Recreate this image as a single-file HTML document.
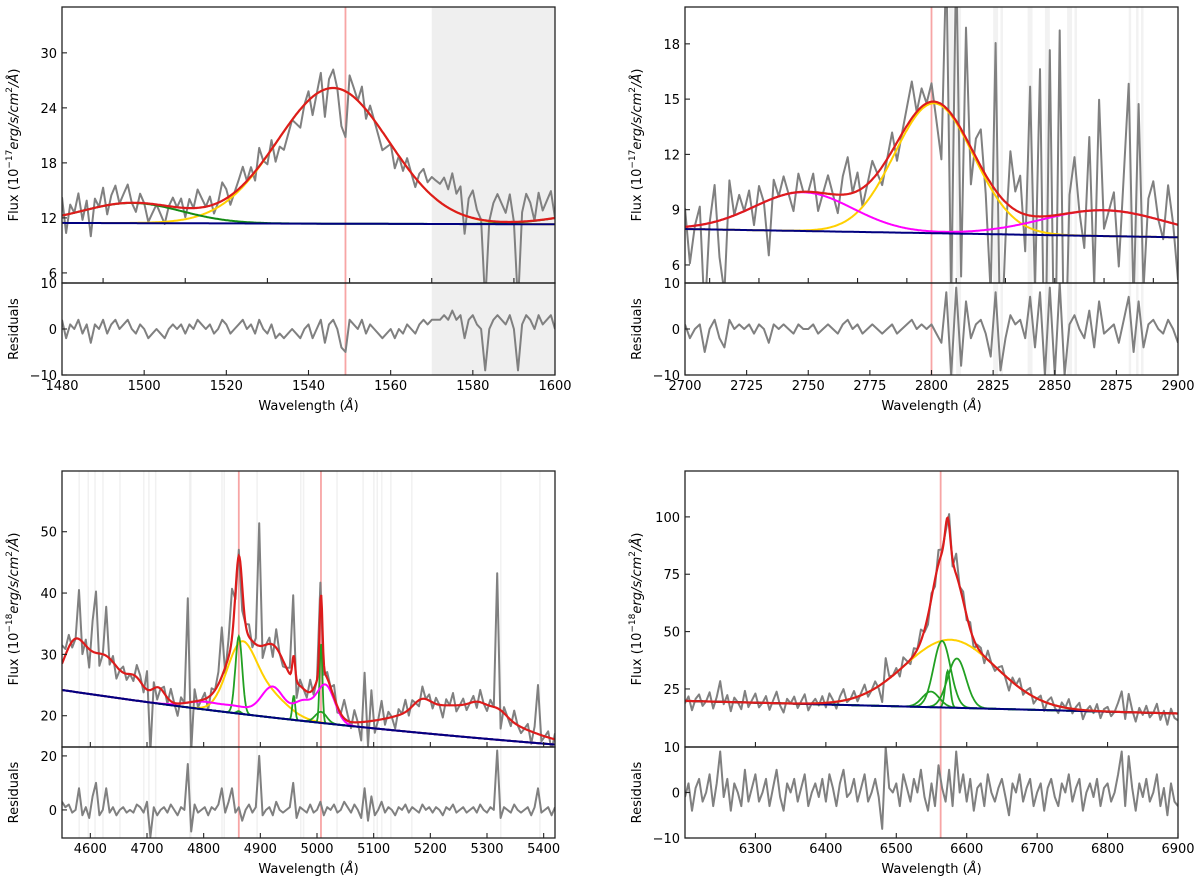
<!DOCTYPE html>
<html><head><meta charset="utf-8"><title>Spectral line fits</title>
<style>
html,body{margin:0;padding:0;background:#fff;}
svg{display:block;font-family:"DejaVu Sans","Liberation Sans",sans-serif;}
</style></head>
<body>
<svg id="fig" width="1200" height="885" viewBox="0 0 1200 885" xmlns="http://www.w3.org/2000/svg"></svg>
<script>
// ---------- DATA ----------
// Panel 1: C IV region
const p1Lam0 = 1480, p1Step = 1;
const p1Residuals = [
2,-2,1,0,2,-1,1,-3,1,0, 2,-1,1,2,0,1,2,0,-1,1, 0,-2,-1,0,-1,-2,0,1,0,1, -1,1,0,2,1,0,1,-1,0,2,
1,-1,0,1,2,0,1,-1,2,0, -1,1,-2,-1,-2,-1,0,-1,-2,0, 1,-2,0,2,-3,1,2,0,-4,-5, 2,1,0,2,-1,1,0,-1,-2,-1,
0,-2,0,-1,1,0,-1,1,2,1, 2,2,2,3,2,4,2,3,-2,2, 3,1,0,-9,0,2,3,2,1,3, 0,-9,1,3,2,0,3,1,2,3, 0];
const p1Continuum = [11.45, 11.3];            // value at 1480, value at 1600
const p1Yellow = [[1546, 14.8, 13.6]];        // [centre, amplitude, sigma]
const p1Green = [[1497, 2.2, 12], [1615, 1.5, 12]];
const p1Magenta = [];
const p1Masks = [[1570, 1600]];
const p1Lines = [1549];

// Panel 2: Mg II region
const p2Lam0 = 2700, p2Step = 2;
const p2Residuals = [
1,-2,0,1,-5,0,2,-2,-4,2, 0,1,0,1,-1,1,0,-3,1,0, 1,0,-1,1,0,0,1,-1,0,1, 0,-1,1,2,0,1,-1,0,1,0,
-1,0,1,-1,0,1,2,0,1,0, 1,-1,-3,8,-10,9,-8,6,-2,1, 2,-1,-6,8,-9,-2,3,1,2,-2, 7,-4,8,-10,9,-10,10,-10,1,3,
0,-2,4,-4,6,-1,0,1,-3,2, 7,-5,6,-4,1,2,0,-1,2,0, -3];
const p2Continuum = [7.95, 7.5];
const p2Yellow = [[2801, 7.05, 16]];
const p2Green = [];
const p2Magenta = [[2748, 2.1, 20], [2870, 1.4, 25]];
const p2Masks = [[2807,2809],[2810,2812],[2825,2827],[2828,2829],[2839,2841],[2846,2848],[2855,2857],[2858,2859],[2880,2881],[2883,2884],[2885,2886]];
const p2Lines = [2800];

// Panel 3: H-beta region
const p3Lam0 = 4550, p3Step = 6;
const p3Residuals = [
3,1,2,-1,0,8,-2,1,-3,5, 10,-2,0,8,-1,1,-2,0,1,-1, 0,-1,2,1,-1,3,-10,1,-2,0, 1,-1,2,0,-2,1,0,17,-8,2,
-1,0,1,-2,1,0,2,8,-1,3, 8,-1,1,-4,0,2,-1,1,20,-2, 0,1,-2,3,0,-1,0,1,10,-3, 1,0,-1,2,-1,0,3,-2,1,0,
2,-1,0,3,1,-1,2,0,-3,8, -4,5,-2,0,3,-1,1,0,-2,1, 0,2,-1,1,0,-1,2,0,1,-1, 1,0,-2,1,0,2,-1,0,1,-1,
0,1,-1,2,0,-1,1,0,22,-3, 1,0,-1,2,0,-1,0,1,-2,1, 8,-1,0,1,-2,1];
const p3PowerLaw = [24.2, 4550, -2.62];        // value at ref wavelength, ref wavelength, index
const p3Yellow = [[4865, 10, 25], [4910, 4, 35]];
const p3Green = [[4862, 12.6, 6], [4959, 4, 2.5], [5007, 13, 2.5], [5007, 1.8, 10], [4862, 0.4, 4]];
const p3Magenta = [[4800, 1.2, 30], [4860, 1.0, 25], [4922, 5.0, 20], [4975, 3.0, 16], [5015, 6.2, 16]];
const p3FeII = [[4572, 7.5, 20], [4625, 6.5, 28], [4680, 3, 15], [4720, 2.5, 12], [4940, 3, 25],
                [5250, 5, 90], [5185, 1.7, 15], [5285, 1.2, 15], [5320, 1.3, 15]];
const p3MaskCentres = [4580,4596,4608,4622,4652,4694,4703,4715,4775,4777,4832,4836,4894,4971,4976,5035,5081,5100,5106,5114,5130,5167,5324,5393];
const p3Lines = [4862, 5007];

// Panel 4: H-alpha region
const p4Lam0 = 6200, p4Step = 5;
const p4Residuals = [
-1,2,-4,1,3,-2,0,4,-3,2, 9,-1,3,-4,2,0,-3,5,-2,1, 4,-2,0,3,-3,1,5,-1,-4,2, 0,3,-2,1,4,-3,0,2,-1,3,
-2,4,1,-3,2,5,-1,0,3,-2, 1,4,-2,0,3,-1,-8,10,1,0, 2,-3,4,1,-2,3,0,5,-1,-4, 2,-3,6,1,-2,5,-3,9,0,4,
-2,3,-4,1,2,-3,4,0,-2,1, 3,-1,-5,2,0,4,-2,1,3,-3, 0,2,-4,1,3,-1,-3,2,0,4, -2,1,3,-4,0,2,-1,3,-3,1,
2,-2,0,4,9,-3,8,1,-4,2, -1,3,-2,0,4,-3,1,-5,2,-2, -3];
const p4Continuum = [19.8, 14.3];
const p4Yellow = [[6577, 29.6, 65]];
const p4Green = [[6565, 29, 12], [6586, 21.5, 13], [6549, 6.8, 12], [6573, 16, 3.5]];
const p4Magenta = [];
const p4Lines = [6563];

// tick labels
const p1XTicks = [1480,1500,1520,1540,1560,1580,1600];
const p1YTicks = [6,12,18,24,30];
const p2XTicks = [2700,2725,2750,2775,2800,2825,2850,2875,2900];
const p2YTicks = [6,9,12,15,18];
const p3XTicks = [4600,4700,4800,4900,5000,5100,5200,5300,5400];
const p3YTicks = [20,30,40,50];
const p4XTicks = [6300,6400,6500,6600,6700,6800,6900];
const p4YTicks = [25,50,75,100];

// ---------- RENDERING ----------
const NS = "http://www.w3.org/2000/svg";
const svg = document.getElementById('fig');
function mk(tag, attrs, parent){
  const e = document.createElementNS(NS, tag);
  for (const k in attrs) e.setAttribute(k, attrs[k]);
  (parent||svg).appendChild(e);
  return e;
}
function gsum(comps, x){ let s=0; for(const c of comps){ s += c[1]*Math.exp(-(x-c[0])*(x-c[0])/(2*c[2]*c[2])); } return s; }
function linCont(p, x0, x1){ return x => p[0] + (p[1]-p[0])*(x-x0)/(x1-x0); }
function plCont(p){ return x => p[0]*Math.pow(x/p[1], p[2]); }

let clipId = 0;
function panel(cfg){
  const {L,R,T,M,B,xmin,xmax,ymin,ymax,rmin,rmax} = cfg;
  const sx = x => L + (x-xmin)/(xmax-xmin)*(R-L);
  const sy = y => M - (y-ymin)/(ymax-ymin)*(M-T);
  const sr = y => B - (y-rmin)/(rmax-rmin)*(B-M);
  const g = mk('g', {});
  
  
  const id1 = 'c'+(clipId++), id2 = 'c'+(clipId++);
  const defs = mk('defs', {}, g);
  const c1 = mk('clipPath', {id:id1}, defs); mk('rect', {x:L, y:T, width:R-L, height:M-T}, c1);
  const c2 = mk('clipPath', {id:id2}, defs); mk('rect', {x:L, y:M, width:R-L, height:B-M}, c2);
  const all = mk('clipPath', {id:id1+'a'}, defs); mk('rect', {x:L, y:T, width:R-L, height:B-T}, all);

  // masks
  const bands = mk('g', {'clip-path':`url(#${id1}a)`}, g);
  
  
  for (const m of cfg.masks){
    const r = mk('rect', {x:sx(m[0]), y:T, width:Math.max(1.5, sx(m[1])-sx(m[0])), height:B-T, fill:cfg.maskFill||'#e6e6e6', opacity:cfg.maskOpacity||0.7}, bands);
    
    
  }
  for (const l of cfg.lines){
    const ln = mk('line', {x1:sx(l), x2:sx(l), y1:T, y2:B, stroke:'#f7a5a5', 'stroke-width':1.8}, g);
    
    
  }
  const main = mk('g', {'clip-path':`url(#${id1})`}, g);
  const res = mk('g', {'clip-path':`url(#${id2})`}, g);
  const model = x => cfg.cont(x) + gsum(cfg.yellow,x) + gsum(cfg.green,x) + gsum(cfg.magenta,x) + gsum(cfg.extra||[],x);
  // spectrum + residual
  let dS='', dR='';
  cfg.res.forEach((r,i)=>{
    const x = cfg.lam0 + i*cfg.step;
    dS += (i?'L':'M') + sx(x).toFixed(1) + ' ' + sy(model(x)+r).toFixed(1);
    dR += (i?'L':'M') + sx(x).toFixed(1) + ' ' + sr(r).toFixed(1);
  });
  const sp = mk('path', {d:dS, fill:'none', stroke:'#808080', 'stroke-width':2, 'stroke-linejoin':'round'}, main);
  
  
  const rp = mk('path', {d:dR, fill:'none', stroke:'#808080', 'stroke-width':2, 'stroke-linejoin':'round'}, res);
  
  
  const N = 700;
  function curve(fn, color, w, name){
    let d='';
    for(let k=0;k<=N;k++){ const x = xmin + (xmax-xmin)*k/N; d += (k?'L':'M')+sx(x).toFixed(1)+' '+sy(fn(x)).toFixed(1); }
    const p = mk('path', {d, fill:'none', stroke:color, 'stroke-width':w}, main);
    
    
  }
  if (cfg.yellow.length) curve(x=>cfg.cont(x)+gsum(cfg.yellow,x), '#ffd000', 2, 'broad-component');
  if (cfg.greenSeparate){ for (const c of cfg.green) curve(x=>cfg.cont(x)+gsum([c],x), cfg.greenColor, 1.8, 'narrow-component'); }
  else if (cfg.green.length) curve(x=>cfg.cont(x)+gsum(cfg.green,x), cfg.greenColor, 2, 'green-component');
  if (cfg.magenta.length) curve(x=>cfg.cont(x)+gsum(cfg.magenta,x), '#ff00ff', 2, 'magenta-component');
  curve(cfg.cont, '#000080', 2, 'continuum-line');
  curve(model, '#dd1c1c', 2.2, 'total-model-fit');

  // axes frames
  for (const [y1,y2,nm] of [[T,M,'main-axes-frame'],[M,B,'residual-axes-frame']]){
    const f = mk('rect', {x:L, y:y1, width:R-L, height:y2-y1, fill:'none', stroke:'#222', 'stroke-width':1.3}, g);
    
    
  }
  // ticks
  const tk = {stroke:'#222','stroke-width':1.1};
  for (const t of cfg.mainXTicks) mk('line', Object.assign({x1:sx(t),x2:sx(t),y1:M,y2:M-5},tk), g);
  cfg.xTicks.forEach(t=>{
    mk('line', Object.assign({x1:sx(t),x2:sx(t),y1:B,y2:B-5},tk), g);
    const tx = mk('text', {x:sx(t), y:B+15, 'font-size':13, 'text-anchor':'middle', fill:'#000'}, g);
    tx.textContent = t;
    
    
  });
  cfg.yTicks.forEach(t=>{
    mk('line', Object.assign({x1:L,x2:L+5,y1:sy(t),y2:sy(t)},tk), g);
    const tx = mk('text', {x:L-5, y:sy(t)+5, 'font-size':13, 'text-anchor':'end', fill:'#000'}, g);
    tx.textContent = t;
    
    
  });
  cfg.rTicks.forEach(t=>{
    mk('line', Object.assign({x1:L,x2:L+5,y1:sr(t),y2:sr(t)},tk), g);
    const tx = mk('text', {x:L-5, y:sr(t)+5, 'font-size':13, 'text-anchor':'end', fill:'#000'}, g);
    tx.textContent = t<0 ? '\u2212'+(-t) : t;
    
    
  });
  // labels
  const xl = mk('text', {x:(L+R)/2, y:B+35, 'font-size':13, 'text-anchor':'middle'}, g);
  xl.innerHTML = 'Wavelength (<tspan font-style="italic">Å</tspan>)';
  
  
  const yx = L-44, yc = (T+M)/2;
  const yl = mk('text', {x:yx, y:yc, 'font-size':13, 'text-anchor':'middle', transform:`rotate(-90 ${yx} ${yc})`}, g);
  yl.innerHTML = 'Flux (10<tspan dy="-6" font-size="9">\u2212'+cfg.exp+'</tspan><tspan dy="6" font-style="italic">erg/s/cm</tspan><tspan dy="-6" font-size="9">2</tspan><tspan dy="6" font-style="italic">/Å</tspan>)';
  
  
  const rc = (M+B)/2;
  const rl = mk('text', {x:yx, y:rc, 'font-size':13, 'text-anchor':'middle', transform:`rotate(-90 ${yx} ${rc})`}, g);
  rl.textContent = 'Residuals';
  
  
}
function range(a,b,s){ const r=[]; for(let v=a; v<=b+1e-9; v+=s) r.push(v); return r; }

panel({name:'civ-panel', L:62,R:555,T:7,M:283,B:375, xmin:1480,xmax:1600, ymin:4.9,ymax:35, rmin:-10,rmax:10,
  lam0:p1Lam0, step:p1Step, res:p1Residuals, cont:linCont(p1Continuum,1480,1600),
  yellow:p1Yellow, green:p1Green, magenta:p1Magenta, greenColor:'#138a13',
  masks:p1Masks, maskFill:'#ececec', maskOpacity:0.85, lines:p1Lines, xTicks:p1XTicks, mainXTicks:range(1490,1590,20),
  yTicks:p1YTicks, rTicks:[10,0,-10], exp:'17'});
panel({name:'mgii-panel', L:685,R:1178,T:7,M:283,B:375, xmin:2700,xmax:2900, ymin:5.02,ymax:20, rmin:-10,rmax:10,
  lam0:p2Lam0, step:p2Step, res:p2Residuals, cont:linCont(p2Continuum,2700,2900),
  yellow:p2Yellow, green:p2Green, magenta:p2Magenta, greenColor:'#2ca02c',
  masks:p2Masks, maskOpacity:0.5, lines:p2Lines, xTicks:p2XTicks, mainXTicks:range(2710,2890,20),
  yTicks:p2YTicks, rTicks:[10,0,-10], exp:'17'});
panel({name:'hbeta-panel', L:62,R:555,T:471,M:747,B:838, xmin:4550,xmax:5420, ymin:14.9,ymax:59.9, rmin:-10.4,rmax:23.3,
  lam0:p3Lam0, step:p3Step, res:p3Residuals, cont:plCont(p3PowerLaw),
  yellow:p3Yellow, green:p3Green, greenSeparate:true, magenta:p3Magenta, extra:p3FeII, greenColor:'#22a022',
  masks:p3MaskCentres.map(c=>[c-1,c+1.5]), maskOpacity:0.55, lines:p3Lines, xTicks:p3XTicks, mainXTicks:p3XTicks,
  yTicks:p3YTicks, rTicks:[20,0], exp:'18'});
panel({name:'halpha-panel', L:685,R:1178,T:471,M:747,B:838, xmin:6200,xmax:6900, ymin:-0.3,ymax:120, rmin:-10,rmax:10,
  lam0:p4Lam0, step:p4Step, res:p4Residuals, cont:linCont(p4Continuum,6200,6900),
  yellow:p4Yellow, green:p4Green, greenSeparate:true, magenta:p4Magenta, greenColor:'#22a022',
  masks:[], lines:p4Lines, xTicks:p4XTicks, mainXTicks:p4XTicks.slice(0,-1),
  yTicks:p4YTicks, rTicks:[10,0,-10], exp:'18'});
</script>
</body></html>
